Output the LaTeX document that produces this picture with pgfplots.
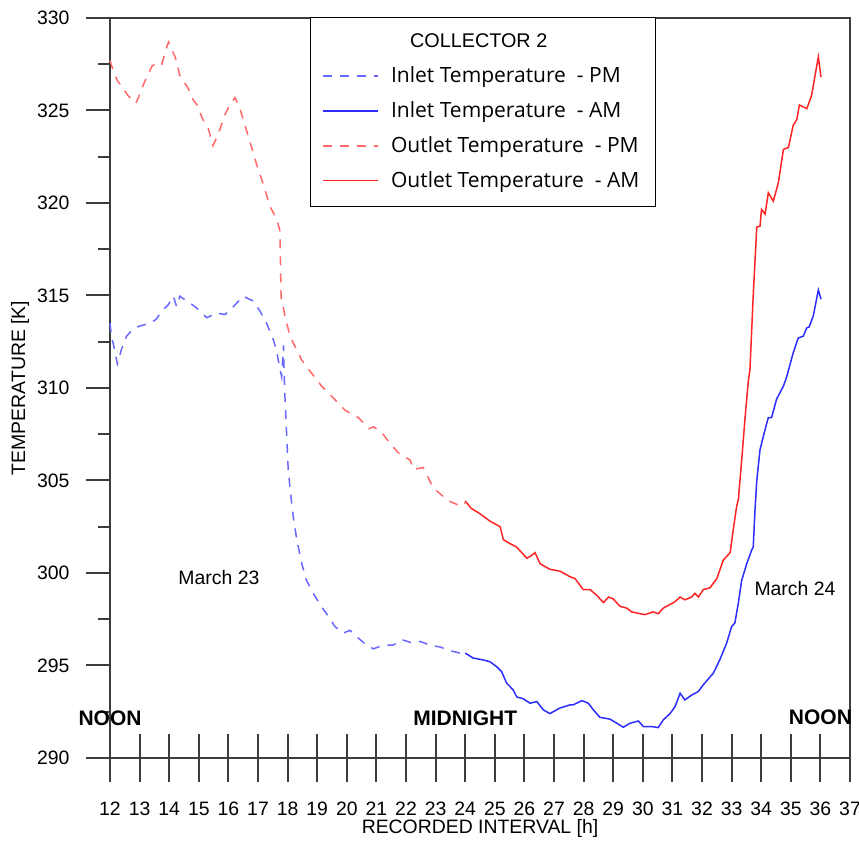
\documentclass[border=0pt]{standalone}
\usepackage{pgfplots}
\pgfplotsset{compat=1.18}
\usepackage{fontspec}
\setmainfont{Liberation Sans}
\newfontfamily\legendfont{Open Sans}

\definecolor{inletAM}{RGB}{45,45,255}
\definecolor{inletPM}{RGB}{105,105,255}
\definecolor{outletAM}{RGB}{255,35,35}
\definecolor{outletPM}{RGB}{255,105,105}
\definecolor{axisgray}{RGB}{60,60,60}

\begin{document}
\begin{tikzpicture}[font=\fontsize{9.7}{11.6}\selectfont]
\begin{axis}[
  name=ax,
  scale only axis,
  clip=false,
  width=370pt, height=370pt,
  xmin=12, xmax=37, ymin=290, ymax=330,
  axis line style={axisgray, line width=1pt},
  xtick={12,...,37},
  ytick={290,295,...,330},
  minor ytick={292.5,297.5,...,327.5},
  xtick pos=bottom, ytick pos=left,
  xtick align=center, ytick align=outside,
  xtick style={axisgray, line width=1pt, /pgfplots/major tick length=24pt},
  ytick style={axisgray, line width=1pt, /pgfplots/major tick length=12pt, /pgfplots/minor tick length=6pt},
  xticklabel style={yshift=-16.5pt},
  yticklabel style={xshift=-12.5pt},
  /pgf/number format/assume math mode=true,
  /pgf/number format/1000 sep={},
  xlabel={RECORDED INTERVAL [h]},
  ylabel={TEMPERATURE [K]},
  xlabel style={at={(axis description cs:0.5,-0.0946)}, anchor=center},
  ylabel style={at={(axis description cs:-0.1216,0.5)}, anchor=center},
  legend style={at={(axis description cs:0.2703,1.0014)}, anchor=north west,
    draw=black, line width=0.6pt, inner xsep=6pt, inner ysep=6pt,
    font=\legendfont\fontsize{10.5}{12}\selectfont,
    row sep=4pt, column sep=4pt},
  legend cell align=left,
  legend image code/.code={\draw[#1] (0pt,0pt) -- (27.5pt,0pt);},
]
\addlegendimage{empty legend}
\addlegendentry{\hspace*{9.5pt}{\rmfamily\fontsize{9.9}{12}\selectfont COLLECTOR 2}}

% Inlet temperature, afternoon of March 23
\addplot[inletPM, line width=0.75pt, dash pattern=on 4.5pt off 4pt] coordinates {
(12.00,313.5) (12.05,312.8) (12.11,312.4) (12.25,311.3) (12.39,312.1) (12.56,312.8)
(12.79,313.2) (13.01,313.35) (13.35,313.5) (13.55,313.7) (13.75,314.15) (13.97,314.5)
(14.14,314.96) (14.25,314.4) (14.36,314.96) (14.60,314.7) (14.87,314.4) (15.04,314.15)
(15.27,313.8) (15.60,314.05) (15.89,313.97) (16.17,314.4) (16.50,314.96) (16.84,314.7)
(17.07,314.15) (17.29,313.5) (17.52,312.6) (17.63,312.0) (17.72,311.2) (17.80,310.6)
(17.86,312.3) (17.88,311.0) (17.91,309.55) (17.97,307.4) (18.02,305.6) (18.10,304.3)
(18.19,303.06) (18.31,301.8) (18.48,300.5) (18.64,299.6) (18.87,298.9) (19.09,298.3)
(19.38,297.65) (19.60,297.1) (19.88,296.75) (20.11,296.9) (20.33,296.56) (20.67,296.1)
(20.90,295.9) (21.23,296.1) (21.57,296.1) (21.85,296.4) (22.25,296.2) (22.47,296.3)
(22.81,296.1) (23.15,296.0) (23.49,295.8) (23.82,295.67) (24.00,295.67)
};
\addlegendentry{Inlet Temperature \ - PM}

% Inlet temperature, night and morning of March 24
\addplot[inletAM, line width=0.75pt] coordinates {
(24.00,295.67) (24.27,295.4) (24.61,295.3) (24.84,295.2) (25.06,294.94) (25.23,294.67)
(25.40,294.04) (25.62,293.68) (25.74,293.3) (25.96,293.2) (26.19,292.96) (26.42,293.05)
(26.64,292.6) (26.86,292.4) (27.20,292.7) (27.54,292.87) (27.65,292.87) (27.94,293.1)
(28.16,292.96) (28.33,292.6) (28.55,292.2) (28.89,292.1) (29.12,291.88) (29.34,291.66)
(29.57,291.88) (29.85,292.0) (30.02,291.7) (30.30,291.7) (30.52,291.64) (30.69,292.06)
(30.92,292.4) (31.09,292.78) (31.26,293.5) (31.42,293.14) (31.65,293.4) (31.88,293.6)
(32.04,293.95) (32.38,294.58) (32.60,295.3) (32.83,296.2) (33.00,297.1) (33.11,297.3)
(33.23,298.4) (33.34,299.6) (33.51,300.5) (33.68,301.25) (33.73,301.4) (33.79,303.4)
(33.85,305.0) (33.96,306.67) (34.13,307.75) (34.24,308.4) (34.35,308.4) (34.52,309.4)
(34.75,310.1) (34.86,310.6) (35.08,311.9) (35.25,312.7) (35.42,312.8) (35.54,313.25)
(35.62,313.3) (35.76,313.9) (35.93,315.3) (36.02,314.8)
};
\addlegendentry{Inlet Temperature \ - AM}

% Outlet temperature, afternoon of March 23
\addplot[outletPM, line width=0.75pt, dash pattern=on 4.5pt off 4pt] coordinates {
(12.00,327.7) (12.10,327.2) (12.25,326.6) (12.41,326.3) (12.61,325.8) (12.88,325.4)
(13.01,325.9) (13.18,326.6) (13.42,327.4) (13.60,327.6) (13.75,327.5) (13.93,328.5)
(13.98,328.7) (14.05,328.4) (14.20,327.9) (14.36,326.9) (14.64,326.2) (14.80,325.6)
(14.94,325.3) (15.14,324.5) (15.31,324.1) (15.48,323.1) (15.65,323.7) (15.89,324.8)
(16.05,325.3) (16.22,325.7) (16.39,325.1) (16.56,324.2) (16.73,323.3) (16.97,322.0)
(17.20,320.9) (17.41,319.8) (17.64,319.1) (17.74,318.5) (17.78,314.9) (17.91,313.9)
(18.08,312.8) (18.48,311.5) (18.81,310.8) (19.15,310.1) (19.49,309.55) (19.94,308.8)
(20.39,308.4) (20.75,307.8) (20.90,307.9) (21.18,307.6) (21.46,307.0) (21.74,306.5)
(22.14,306.1) (22.25,305.6) (22.58,305.7) (22.92,304.6) (23.43,303.9) (23.88,303.6)
(24.00,303.8)
};
\addlegendentry{Outlet Temperature \ - PM}

% Outlet temperature, night and morning of March 24
\addplot[outletAM, line width=0.75pt] coordinates {
(24.00,303.9) (24.20,303.5) (24.50,303.2) (24.84,302.8) (25.18,302.5) (25.29,301.8)
(25.50,301.6) (25.74,301.4) (26.08,300.8) (26.20,300.9) (26.36,301.1) (26.53,300.5)
(26.86,300.2) (27.20,300.1) (27.54,299.8) (27.71,299.7) (27.99,299.1) (28.22,299.1)
(28.44,298.8) (28.67,298.4) (28.84,298.7) (29.00,298.6) (29.23,298.2) (29.46,298.1)
(29.62,297.9) (29.90,297.8) (30.07,297.75) (30.35,297.9) (30.52,297.8) (30.69,298.1)
(30.92,298.3) (31.09,298.45) (31.26,298.7) (31.42,298.55) (31.65,298.7) (31.76,298.9)
(31.88,298.7) (32.04,299.1) (32.27,299.2) (32.50,299.7) (32.72,300.7) (32.95,301.1)
(33.06,302.4) (33.17,303.6) (33.23,304.0) (33.34,306.1) (33.45,308.3) (33.56,310.3)
(33.62,311.0) (33.73,315.0) (33.85,318.7) (33.96,318.75) (34.01,319.65) (34.13,319.4)
(34.24,320.55) (34.41,320.1) (34.58,321.1) (34.75,322.9) (34.92,323.0) (35.08,324.2)
(35.20,324.5) (35.29,325.3) (35.54,325.1) (35.70,325.8) (35.93,327.9) (36.02,326.8)
};
\addlegendentry{Outlet Temperature \ - AM}

% Time-of-day and date annotations
\node[font=\bfseries\fontsize{10.5}{12}\selectfont] at (axis cs:12,292.16) {NOON};
\node[font=\bfseries\fontsize{10.5}{12}\selectfont] at (axis cs:24,292.16) {MIDNIGHT};
\node[font=\bfseries\fontsize{10.5}{12}\selectfont] at (axis cs:36,292.2) {NOON};
\node at (axis cs:15.68,299.74) {March 23};
\node at (axis cs:35.14,299.15) {March 24};
\end{axis}
\pgfresetboundingbox
\path ([shift={(-55pt,-41.5pt)}]ax.south west) rectangle ([shift={(4.5pt,9pt)}]ax.north east);
\end{tikzpicture}
\end{document}
